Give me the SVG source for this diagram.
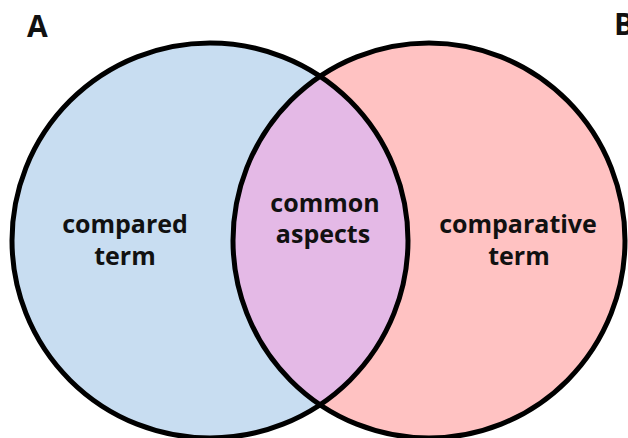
<svg xmlns="http://www.w3.org/2000/svg" width="628" height="438" viewBox="0 0 628 438">
<style>
.lbl{font-family:"Open Sans","Noto Sans","Liberation Sans",sans-serif;font-weight:bold;font-size:25px;fill:#111;text-anchor:middle}
.set{font-family:"Open Sans","Noto Sans","Liberation Sans",sans-serif;font-weight:bold;font-size:30px;fill:#111}
.ring{fill:none;stroke:#000;stroke-width:5}
</style>
<defs>
<clipPath id="clipA"><ellipse cx="210" cy="240.5" rx="198" ry="197.5"/></clipPath>
</defs>
<rect width="628" height="438" fill="#fff"/>
<g id="setA">
<ellipse cx="210" cy="240.5" rx="198" ry="197.5" fill="#C8DDF1"/>
</g>
<g id="setB">
<ellipse cx="429" cy="240.5" rx="196" ry="197.5" fill="#FFC2C2"/>
</g>
<g id="overlap">
<ellipse cx="429" cy="240.5" rx="196" ry="197.5" fill="#E4B9E6" clip-path="url(#clipA)"/>
</g>
<g id="outlines">
<ellipse class="ring" cx="210" cy="240.5" rx="198" ry="197.5"/>
<ellipse class="ring" cx="429" cy="240.5" rx="196" ry="197.5"/>
</g>
<g id="labels">
<text class="set" x="27" y="37">A</text>
<text class="set" x="614" y="35">B</text>
<text class="lbl" x="125" y="233">compared</text>
<text class="lbl" x="125" y="265">term</text>
<text class="lbl" x="325" y="212">common</text>
<text class="lbl" x="323" y="243">aspects</text>
<text class="lbl" x="518" y="233">comparative</text>
<text class="lbl" x="519" y="265">term</text>
</g>
</svg>
